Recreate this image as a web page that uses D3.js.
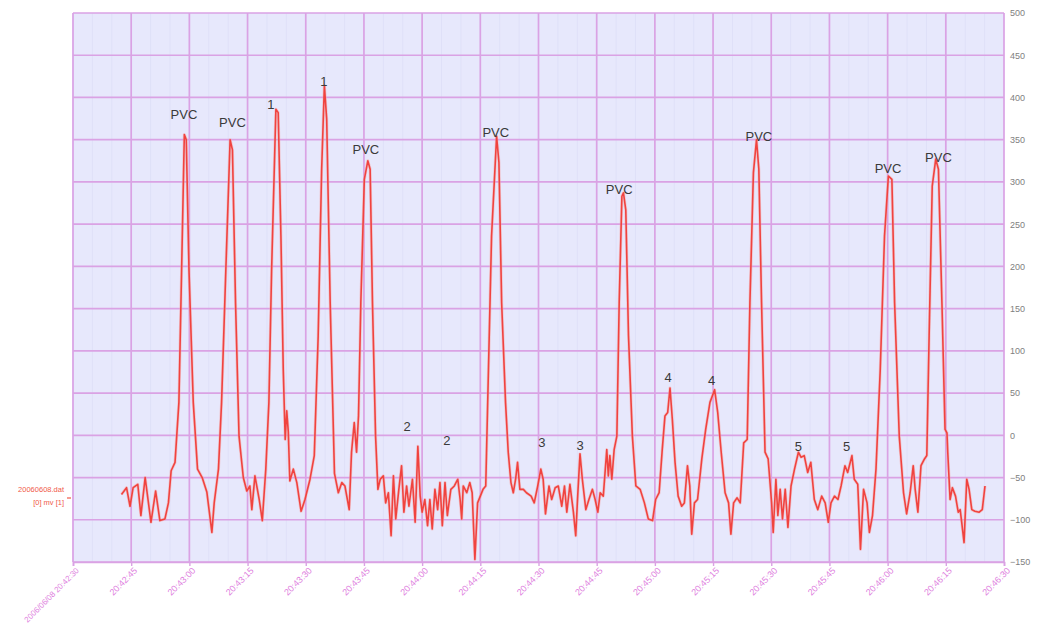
<!DOCTYPE html>
<html>
<head>
<meta charset="utf-8">
<script src="https://d3js.org/d3.v7.min.js"></script>
<style>
  body { margin: 0; background: #fff; }
  text { font-family: Arial, "Liberation Sans", Helvetica, sans-serif; }
</style>
</head>
<body>
<script>
// ECG trace, [seconds after 20:42:30, value]
var ecgSamples = [
  [12.5,-70],[13.8,-62],[14.7,-84],[15.5,-62],[16.7,-58],[17.5,-95],[18.6,-50],[20.1,-103],
  [21.3,-66],[22.4,-101],[23.7,-99],[24.6,-80],[25.3,-42],[26.3,-32],[27.3,39],[28.0,196],
  [28.7,356],[29.2,350],[29.9,196],[31.0,39],[32.1,-40],[33.3,-50],[34.5,-67],[35.8,-115],
  [36.4,-80],[37.5,-40],[38.3,39],[39.4,196],[40.5,350],[41.1,338],[41.9,157],[42.8,-1],
  [43.9,-50],[44.8,-66],[45.6,-60],[46.1,-88],[46.9,-48],[48.0,-76],[48.8,-101],[49.7,-40],
  [50.5,39],[51.2,196],[52.3,386],[52.9,382],[53.6,236],[54.2,78],[54.7,-5],[55.1,29],
  [55.5,4],[55.9,-54],[56.8,-40],[57.7,-56],[58.8,-90],[59.8,-76],[61.1,-52],[62.2,-24],
  [63.2,117],[64.1,315],[64.8,414],[65.4,374],[66.3,157],[67.4,-45],[68.4,-68],[69.3,-56],
  [70.1,-60],[71.2,-88],[71.8,-20],[72.5,15],[73.1,-20],[73.6,23],[74.2,157],[75.1,303],
  [76.0,325],[76.6,315],[77.2,157],[78.0,-1],[78.6,-64],[79.2,-52],[80.0,-48],[80.6,-80],
  [81.3,-68],[82.0,-119],[82.6,-48],[83.2,-99],[84.0,-64],[84.7,-36],[85.3,-91],[86.0,-60],
  [86.6,-84],[87.5,-52],[88.2,-103],[88.9,-13],[89.5,-72],[90.0,-91],[90.7,-76],[91.4,-107],
  [92.0,-76],[92.6,-111],[93.3,-64],[94.0,-88],[94.6,-56],[95.2,-107],[95.9,-56],[96.5,-95],
  [97.4,-64],[98.3,-60],[99.2,-52],[99.8,-76],[100.2,-99],[100.6,-60],[101.5,-68],[102.3,-56],
  [102.9,-68],[103.6,-147],[104.3,-80],[105.0,-72],[105.7,-64],[106.4,-60],[107.1,78],[107.9,236],
  [109.2,354],[109.8,323],[110.5,157],[111.5,39],[112.2,-20],[112.9,-56],[113.5,-68],[114.1,-52],
  [114.6,-32],[115.2,-64],[116.1,-64],[116.9,-68],[118.1,-72],[118.9,-80],[119.8,-60],[120.6,-40],
  [121.2,-52],[121.8,-93],[122.7,-60],[123.4,-76],[124.3,-62],[125.1,-60],[126.0,-84],[126.7,-60],
  [127.3,-91],[128.1,-58],[129.0,-91],[129.6,-119],[130.1,-72],[130.7,-22],[131.3,-52],[132.2,-88],
  [133.0,-76],[133.9,-64],[134.6,-76],[135.3,-91],[135.9,-68],[136.7,-72],[137.6,-17],[138.0,-48],
  [138.4,-24],[138.9,-52],[139.5,-17],[140.2,-1],[140.8,157],[141.5,283],[141.9,287],[142.5,267],
  [143.2,118],[144.2,-1],[145.1,-60],[146.2,-64],[147.3,-80],[148.3,-99],[149.4,-101],[150.2,-76],
  [151.1,-68],[151.9,-17],[152.6,23],[153.3,27],[153.9,56],[154.5,19],[155.2,-32],[156.0,-72],
  [156.9,-84],[157.6,-80],[158.4,-36],[159.0,-60],[159.5,-117],[160.2,-80],[161.0,-76],[162.1,-28],
  [163.1,7],[164.2,39],[165.4,54],[166.2,27],[167.1,-20],[168.1,-68],[169.0,-80],[169.6,-117],
  [170.3,-80],[171.2,-74],[172.0,-80],[172.9,-9],[173.8,-5],[174.5,157],[175.4,311],[176.2,350],
  [176.8,315],[177.5,157],[178.4,-20],[179.2,-28],[180.1,-80],[180.5,-115],[181.2,-52],[181.7,-95],
  [182.3,-64],[182.9,-99],[183.6,-64],[184.3,-109],[185.1,-60],[186.0,-40],[187.0,-20],[187.7,-26],
  [188.5,-24],[189.4,-44],[190.2,-32],[191.1,-76],[192.0,-88],[193.0,-72],[193.9,-80],[194.7,-103],
  [195.4,-80],[196.3,-72],[197.2,-76],[198.0,-60],[199.0,-36],[199.7,-44],[200.8,-24],[201.4,-52],
  [202.3,-58],[203.0,-135],[203.8,-64],[204.7,-80],[205.3,-115],[206.1,-95],[207.0,-40],[208.1,78],
  [209.2,236],[210.2,307],[211.1,303],[211.8,157],[213.0,-1],[214.1,-68],[214.9,-93],[215.8,-68],
  [216.6,-36],[217.1,-64],[217.8,-91],[218.6,-36],[219.5,-28],[220.1,-24],[220.7,118],[221.5,295],
  [222.4,327],[223.1,315],[224.0,157],[224.8,7],[225.3,3],[225.5,-20],[226.1,-76],[226.7,-62],
  [227.5,-72],[228.2,-91],[228.7,-88],[229.1,-103],[229.7,-127],[230.4,-52],[231.0,-64],[231.7,-88],
  [232.5,-90],[233.6,-91],[234.4,-88],[235.1,-60]
];

// beat annotations
var annotTexts   = ["PVC","PVC","1","1","PVC","2","2","PVC","3","3","PVC","4","4","PVC","5","5","PVC","PVC"];
var annotSeconds = [28.6, 41.1, 51.0, 64.7, 75.5, 86.1, 96.4, 109.0, 120.9, 130.7, 140.8, 153.4, 164.6, 176.8, 187.0, 199.4, 210.1, 223.1];
var annotValues  = [375, 365, 386, 414, 333, 5, -12, 353, -14, -17, 286, 63, 59, 349, -18, -19, 311, 323];

var yTickValues = [-150, -100, -50, 0, 50, 100, 150, 200, 250, 300, 350, 400, 450, 500];
var legendLines = ["20060608.dat", "[0] mv [1]"];

var startTime = new Date(2006, 5, 8, 20, 42, 30);
var endTime = new Date(2006, 5, 8, 20, 46, 30);

// layout
var width = 1045, height = 626;
var plot = {left: 73, right: 1004, top: 13, bottom: 562};

var svg = d3.select("body").append("svg")
    .attr("width", width)
    .attr("height", height);

var x = d3.scaleTime().domain([startTime, endTime]).range([plot.left, plot.right]);
var y = d3.scaleLinear().domain([-150, 500]).range([plot.bottom, plot.top]);

function atSec(s) { return new Date(startTime.getTime() + s * 1000); }

// plot background
svg.append("rect")
    .attr("x", plot.left).attr("y", plot.top)
    .attr("width", plot.right - plot.left)
    .attr("height", plot.bottom - plot.top)
    .attr("fill", "#e7e8fc");

// faint minor vertical lines
var minorTicks = d3.timeSecond.every(5).range(startTime, endTime);
svg.append("g").selectAll("line")
    .data(minorTicks)
    .enter().append("line")
    .attr("x1", function(d) { return x(d); })
    .attr("x2", function(d) { return x(d); })
    .attr("y1", plot.top).attr("y2", plot.bottom)
    .attr("stroke", "#dfe0f8")
    .attr("stroke-width", 1);

var xTicks = d3.timeSecond.every(15).range(startTime, new Date(endTime.getTime() + 1));

// grid
var grid = svg.append("g").attr("class", "grid");
grid.selectAll("line.h")
    .data(yTickValues)
    .enter().append("line")
    .attr("class", "h")
    .attr("x1", plot.left).attr("x2", plot.right)
    .attr("y1", function(d) { return y(d); })
    .attr("y2", function(d) { return y(d); })
    .attr("stroke", "#daa2e4")
    .attr("stroke-width", 1.7);
grid.selectAll("line.v")
    .data(xTicks)
    .enter().append("line")
    .attr("class", "v")
    .attr("x1", function(d) { return x(d); })
    .attr("x2", function(d) { return x(d); })
    .attr("y1", plot.top).attr("y2", plot.bottom)
    .attr("stroke", "#daa2e4")
    .attr("stroke-width", 1.7);

// x axis
var fmtFirst = d3.timeFormat("%Y/%m/%d %H:%M:%S");
var fmtTime = d3.timeFormat("%H:%M:%S");
var xAxis = svg.append("g")
    .attr("transform", "translate(0," + plot.bottom + ")")
    .call(d3.axisBottom(x)
        .tickValues(xTicks)
        .tickSize(4)
        .tickFormat(function(d, i) { return i == 0 ? fmtFirst(d) : fmtTime(d); }));
xAxis.select(".domain").attr("stroke", "#daa2e4").attr("stroke-width", 1.7);
xAxis.selectAll(".tick line").attr("stroke", "#daa2e4").attr("stroke-width", 1.4);
xAxis.selectAll(".tick text")
    .attr("x", 0).attr("y", 0)
    .attr("dy", ".35em")
    .attr("transform", "translate(4,7) rotate(-45)")
    .style("text-anchor", "end")
    .style("font-size", function(d, i) { return i == 0 ? "8px" : "9px"; })
    .style("fill", "#e07fe0");

// y axis on the right
var yAxis = svg.append("g")
    .attr("transform", "translate(" + plot.right + ",0)")
    .call(d3.axisRight(y).tickValues(yTickValues).tickSize(0).tickPadding(6));
yAxis.select(".domain").remove();
yAxis.selectAll(".tick text")
    .style("font-size", "9px")
    .style("fill", "#808080");

// legend text on the left
svg.selectAll("text.legend")
    .data(legendLines)
    .enter().append("text")
    .attr("class", "legend")
    .attr("x", 64)
    .attr("y", function(d, i) { return 492 + i * 13; })
    .style("text-anchor", "end")
    .style("font-size", "7.5px")
    .style("fill", "#f05a4a")
    .text(function(d) { return d; });
svg.append("line")
    .attr("x1", 67).attr("x2", 71)
    .attr("y1", 498).attr("y2", 498)
    .attr("stroke", "#f05a4a")
    .attr("stroke-width", 1.2);

// ECG line
var line = d3.line()
    .x(function(d) { return x(atSec(d[0])); })
    .y(function(d) { return y(d[1]); });

svg.append("path")
    .datum(ecgSamples)
    .attr("d", line)
    .attr("fill", "none")
    .attr("stroke", "#f7a3a3")
    .attr("stroke-width", 3)
    .attr("stroke-opacity", 0.5)
    .attr("stroke-linejoin", "round");

svg.append("path")
    .datum(ecgSamples)
    .attr("d", line)
    .attr("fill", "none")
    .attr("stroke", "#f0433f")
    .attr("stroke-width", 1.6)
    .attr("stroke-linejoin", "round");

// annotations
svg.selectAll("text.annot")
    .data(annotTexts)
    .enter().append("text")
    .attr("class", "annot")
    .attr("x", function(d, i) { return x(atSec(annotSeconds[i])); })
    .attr("y", function(d, i) { return y(annotValues[i]); })
    .style("text-anchor", "middle")
    .style("font-size", "13px")
    .style("fill", "#3a3a3a")
    .text(function(d) { return d; });
</script>
</body>
</html>
